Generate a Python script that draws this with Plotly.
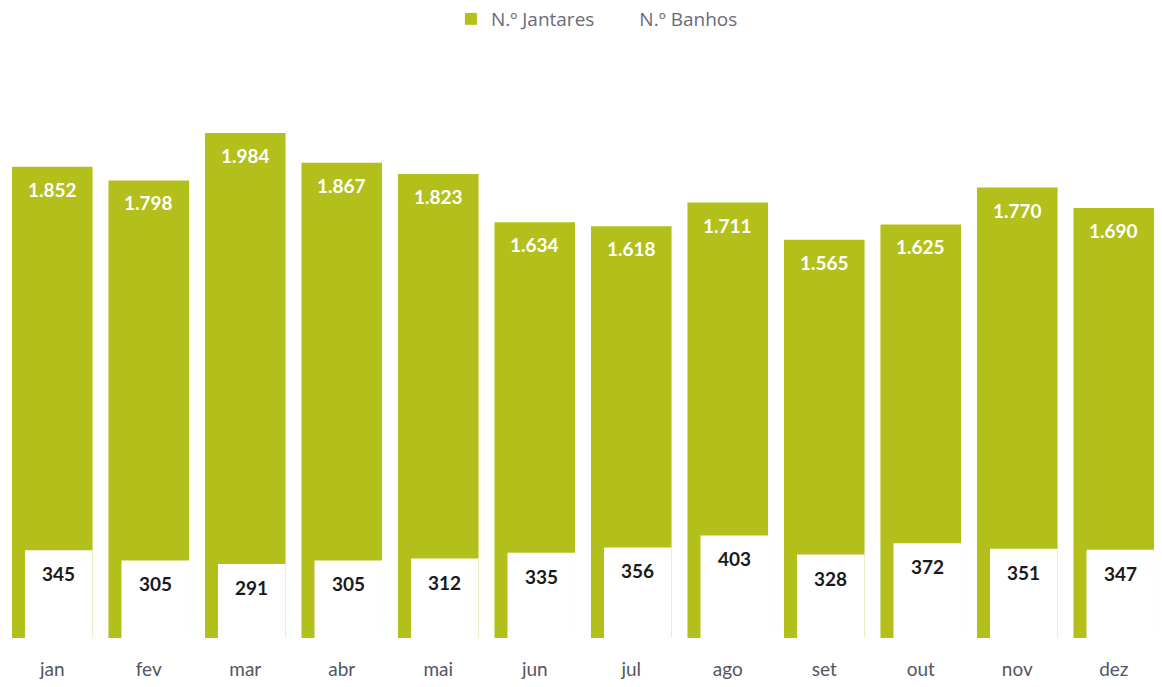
import plotly.graph_objects as go

months = ["jan", "fev", "mar", "abr", "mai", "jun", "jul", "ago", "set", "out", "nov", "dez"]
jantares = [1852, 1798, 1984, 1867, 1823, 1634, 1618, 1711, 1565, 1625, 1770, 1690]
banhos = [345, 305, 291, 305, 312, 335, 356, 403, 328, 372, 351, 347]

GREEN = "#b3c01b"

def fmt(v):
    return f"{v:,}".replace(",", ".")

fig = go.Figure()
fig.add_trace(go.Bar(
    x=months, y=jantares, name="N.º Jantares",
    marker=dict(color=GREEN, line=dict(width=0)),
    width=0.835, offset=-0.4175,
))
fig.add_trace(go.Bar(
    x=months, y=banhos, name="N.º Banhos",
    marker=dict(color="#ffffff", line=dict(width=0)),
    width=0.70, offset=-0.2825,
))

annotations = []
for i, (m, v) in enumerate(zip(months, jantares)):
    annotations.append(dict(
        x=i, y=v, xref="x", yref="y", text=f"<b>{fmt(v)}</b>", showarrow=False,
        yanchor="top", yshift=-9,
        font=dict(family="Lato", size=19, color="#ffffff"),
    ))
for i, (m, v) in enumerate(zip(months, banhos)):
    annotations.append(dict(
        x=i + 0.0675, y=v, xref="x", yref="y", text=f"<b>{fmt(v)}</b>", showarrow=False,
        yanchor="top", yshift=-10,
        font=dict(family="Lato", size=19, color="#1a1a1a"),
    ))

fig.update_layout(
    width=1162, height=687,
    margin=dict(l=4, r=0, t=129, b=49),
    paper_bgcolor="#ffffff", plot_bgcolor="#ffffff",
    barmode="overlay",
    showlegend=True,
    legend=dict(
        orientation="h", x=0.512, xanchor="center", y=1.0, yanchor="top",
        yref="container", font=dict(family="Open Sans", size=19, color="#6a6a78"),
        itemsizing="constant", traceorder="normal",
    ),
    xaxis=dict(
        type="category", range=[-0.5, 11.5], showgrid=False, showline=False,
        zeroline=False, ticks="", ticklabelstandoff=18,
        tickfont=dict(family="Lato", size=19, color="#555560"),
    ),
    yaxis=dict(range=[0, 2000], visible=False, showgrid=False, zeroline=False),
    annotations=annotations,
)

fig.write_html("out.html", config={"displayModeBar": False},
               post_script="document.body.style.margin='0';")
